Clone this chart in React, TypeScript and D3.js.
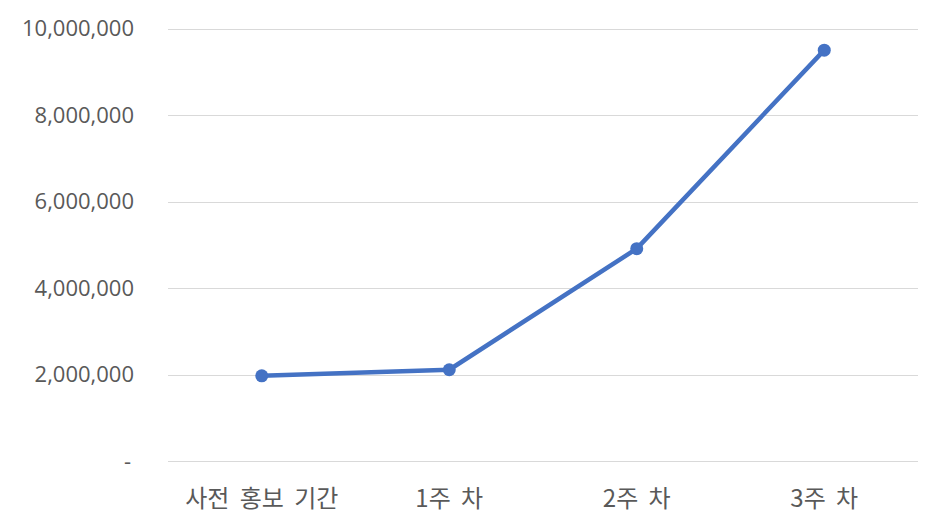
import React from "react";
import * as d3 from "d3";

const categories = ["사전 홍보 기간", "1주 차", "2주 차", "3주 차"];
const values = [1970000, 2110000, 4910000, 9500000];
const yTicks = [0, 2000000, 4000000, 6000000, 8000000, 10000000];

const W = 945;
const H = 532;
const margin = { left: 168, right: 27, top: 28.5, bottom: 71 };

export default function App() {
  const x = d3
    .scaleBand<string>()
    .domain(categories)
    .range([margin.left, W - margin.right])
    .padding(0);
  const y = d3
    .scaleLinear()
    .domain([0, 10000000])
    .range([H - margin.bottom, margin.top]);
  const fmt = d3.format(",");
  const cx = (c: string) => (x(c) as number) + x.bandwidth() / 2;
  const line = d3
    .line<number>()
    .x((_, i) => cx(categories[i]))
    .y((d) => y(d));
  const font = "'Open Sans', 'Noto Sans CJK KR', sans-serif";
  const krFont = "'Noto Sans CJK KR', sans-serif";
  return (
    <svg
      width={W}
      height={H}
      style={{ position: "absolute", left: 0, top: 0, background: "#fff" }}
    >
      {yTicks.map((t) => (
        <g key={t}>
          <line
            x1={margin.left}
            x2={W - margin.right}
            y1={Math.round(y(t)) + 0.5}
            y2={Math.round(y(t)) + 0.5}
            stroke="#d9d9d9"
            strokeWidth={1}
          />
          <text
            x={t === 0 ? 131 : 134}
            y={y(t)}
            dy="0.35em"
            textAnchor="end"
            fill="#595959"
            fontSize={22}
            fontFamily={font}
          >
            {t === 0 ? "-" : fmt(t)}
          </text>
        </g>
      ))}
      {categories.map((c) => (
        <text
          key={c}
          x={cx(c)}
          y={499}
          dy="0.35em"
          textAnchor="middle"
          fill="#595959"
          fontSize={24}
          fontFamily={krFont}
          style={{ wordSpacing: "5px" }}
        >
          {c}
        </text>
      ))}
      <path
        d={line(values) || ""}
        fill="none"
        stroke="#4472C4"
        strokeWidth={4.5}
        strokeLinejoin="round"
        strokeLinecap="round"
      />
      {values.map((v, i) => (
        <circle key={i} cx={cx(categories[i])} cy={y(v)} r={6.5} fill="#4472C4" />
      ))}
    </svg>
  );
}
